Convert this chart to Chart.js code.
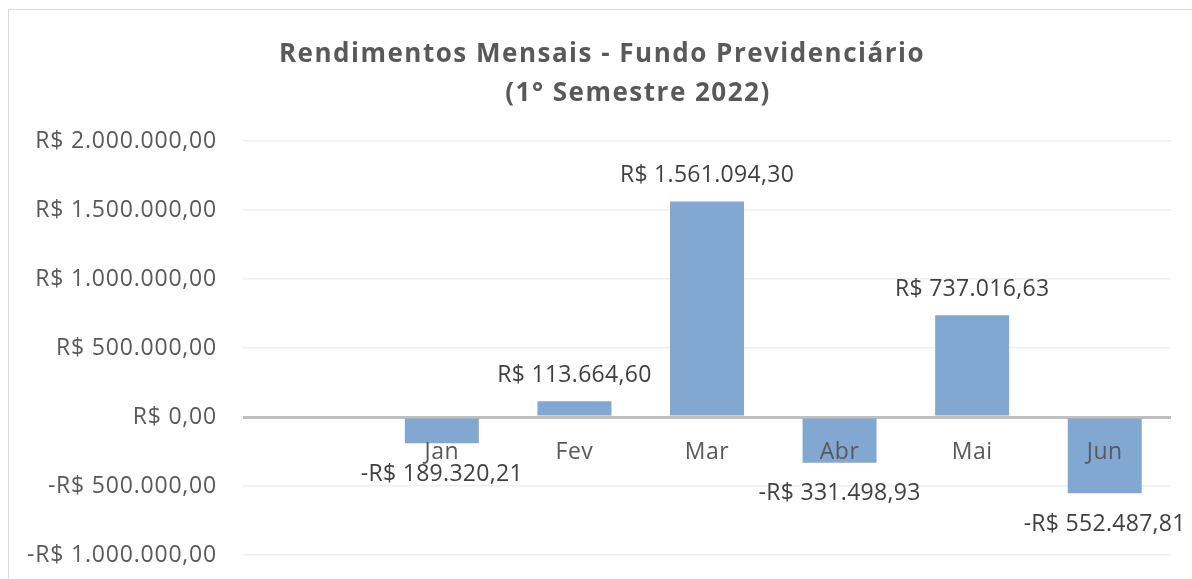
<!DOCTYPE html>
<html>
<head>
<meta charset="utf-8">
<script src="https://cdn.jsdelivr.net/npm/chart.js@4"></script>
<style>
  html, body { margin: 0; padding: 0; background: #fff; overflow: hidden; }
  #frame {
    position: absolute; left: 8px; top: 9px; width: 1300px; height: 700px;
    border: 1.5px solid #d9d9d9; box-sizing: border-box;
  }
  #wrap { position: absolute; left: 0; top: 0; width: 1192px; height: 579px; }
  canvas { display: block; }
</style>
</head>
<body>
<div id="frame"></div>
<div id="wrap"><canvas id="chart"></canvas></div>
<script>
// chart data
const months = ['', 'Jan', 'Fev', 'Mar', 'Abr', 'Mai', 'Jun'];
const returns = [null, -189320.21, 113664.60, 1561094.30, -331498.93, 737016.63, -552487.81];
const titleLines = ['Rendimentos Mensais - Fundo Previdenciário', '(1° Semestre 2022)'];
const yMin = -1000000, yMax = 2000000, yStep = 500000;

// R$ format, pt-BR style
function brl(v) {
    const neg = v < 0;
    const parts = Math.abs(v).toFixed(2).split('.');
    const int = parts[0].replace(/\B(?=(\d{3})+(?!\d))/g, '.');
    return (neg ? '-' : '') + 'R$ ' + int + ',' + parts[1];
}

const FONT = '"Open Sans", "Noto Sans", sans-serif';

// a bit of tracking for the axis text
const spacing = {
    id: 'spacing',
    beforeDraw(chart) { chart.ctx.letterSpacing = '0.8px'; }
};

// title + category labels + value labels drawn on top of the bars
const overlay = {
    id: 'overlay',
    afterDatasetsDraw(chart) {
        const ctx = chart.ctx;
        const x = chart.scales.x, y = chart.scales.y;
        const zero = y.getPixelForValue(0);
        ctx.save();
        ctx.textAlign = 'center';
        ctx.textBaseline = 'middle';

        // title
        ctx.fillStyle = '#595959';
        ctx.font = 'bold 26px ' + FONT;
        ctx.letterSpacing = '1.5px';
        ctx.fillText(titleLines[0], 602, 55);
        ctx.fillText(titleLines[1], 638, 94);

        // category labels next to the zero line
        ctx.letterSpacing = '0.5px';
        ctx.font = '23px ' + FONT;
        ctx.fillStyle = '#595959';
        months.forEach((m, i) => {
            if (m) ctx.fillText(m, x.getPixelForValue(i), zero + 35);
        });

        // value labels
        ctx.letterSpacing = '0.3px';
        ctx.fillStyle = '#404040';
        const meta = chart.getDatasetMeta(0);
        meta.data.forEach((bar, i) => {
            const v = returns[i];
            if (v === null) return;
            const yy = v >= 0 ? bar.y - 26 : bar.y + 31;
            ctx.fillText(brl(v), bar.x, yy);
        });
        ctx.restore();
    }
};

new Chart(document.getElementById('chart'), {
    type: 'bar',
    data: {
        labels: months,
        datasets: [{
            data: returns,
            backgroundColor: '#82a7d0',
            borderWidth: 0,
            categoryPercentage: 1,
            barPercentage: 0.558
        }]
    },
    options: {
        responsive: true,
        maintainAspectRatio: false,
        animation: false,
        layout: { padding: { top: 141, right: 21, bottom: 24, left: 0 } },
        plugins: {
            legend: { display: false },
            tooltip: { enabled: false }
        },
        scales: {
            x: { display: false },
            y: {
                min: yMin,
                max: yMax,
                afterFit(scale) { scale.width = 243; },
                border: { display: false },
                grid: {
                    drawTicks: true,
                    tickLength: 26,
                    tickColor: 'rgba(0,0,0,0)',
                    color: ctx => ctx.tick && ctx.tick.value === 0 ? '#bfbfbf' : '#efefef',
                    lineWidth: ctx => ctx.tick && ctx.tick.value === 0 ? 3 : 1.5
                },
                ticks: {
                    stepSize: yStep,
                    padding: 0,
                    color: '#595959',
                    font: { family: FONT, size: 23 },
                    callback: v => brl(v)
                }
            }
        }
    },
    plugins: [spacing, overlay]
});
</script>
</body>
</html>
